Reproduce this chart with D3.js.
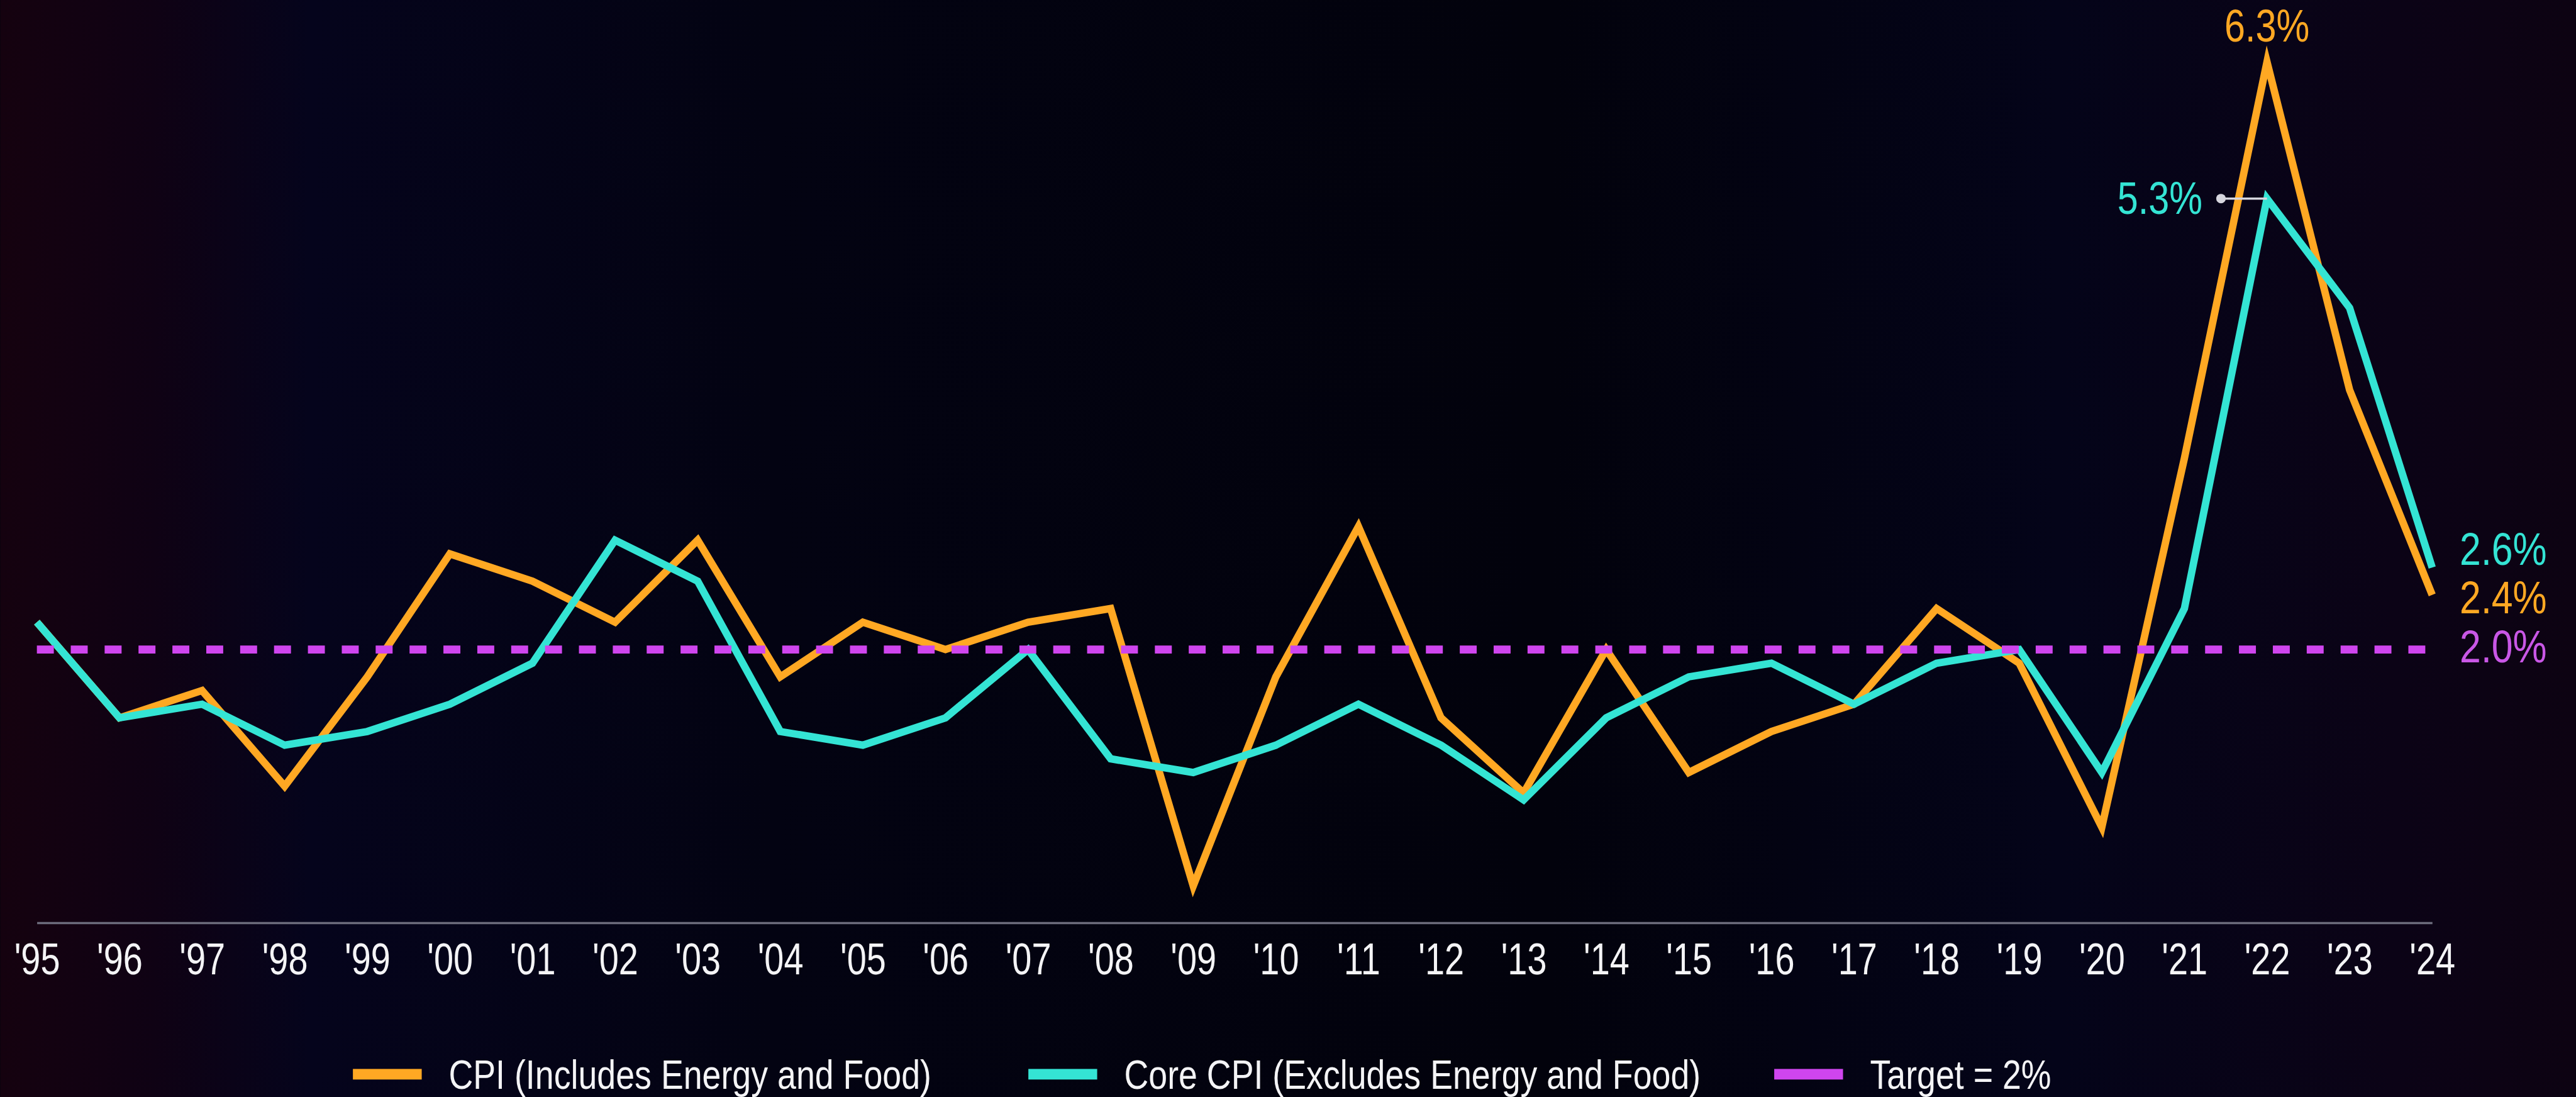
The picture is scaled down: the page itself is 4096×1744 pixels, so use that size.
<!DOCTYPE html>
<html>
<head>
<meta charset="utf-8">
<script src="https://cdn.jsdelivr.net/npm/d3@7"></script>
<style>
  html, body { margin: 0; padding: 0; background: #03030c; overflow: hidden; }
  svg { display: block; }
  text { font-family: "Liberation Sans", Arial, sans-serif; }
</style>
</head>
<body>
<div id="chart"></div>
<script>
// annual inflation, %
const years = d3.range(1995, 2025);
const cpi  = [2.2, 1.5, 1.7, 1.0, 1.8, 2.7, 2.5, 2.2, 2.8, 1.8, 2.2, 2.0, 2.2, 2.3, 0.27,
              1.8, 2.9, 1.5, 0.95, 2.0, 1.1, 1.4, 1.6, 2.3, 1.9, 0.7, 3.4, 6.3, 3.9, 2.4];
const core = [2.2, 1.5, 1.6, 1.3, 1.4, 1.6, 1.9, 2.8, 2.5, 1.4, 1.3, 1.5, 2.0, 1.2, 1.1,
              1.3, 1.6, 1.3, 0.9, 1.5, 1.8, 1.9, 1.6, 1.9, 2.0, 1.1, 2.3, 5.3, 4.5, 2.6];
const target = 2.0;
const legendItems = ['CPI (Includes Energy and Food)', 'Core CPI (Excludes Energy and Food)', 'Target = 2%'];

const C = { cpi: '#ffa823', core: '#34e4d4', target: '#cf45ee', targetText: '#c957e6', axis: '#6c6c7c', text: '#f4f4f6' };

// drawn in the reference's own pixel space, then scaled to the window
const W = 4865, H = 2072;
const svg = d3.select('#chart').append('svg')
  .attr('viewBox', `0 0 ${W} ${H}`).attr('width', 4096).attr('height', 1744);

const defs = svg.append('defs');
const bg = defs.append('linearGradient').attr('id', 'bg').attr('x1', 0).attr('x2', 1).attr('y1', 0).attr('y2', 0);
[[0, '#15020f'], [0.06, '#0f0214'], [0.12, '#05041c'], [0.3, '#030312'], [0.6, '#02020c'],
 [0.8, '#040419'], [0.93, '#0b0316'], [1, '#0d0312']]
  .forEach(([o, c]) => bg.append('stop').attr('offset', o).attr('stop-color', c));
svg.append('rect').attr('width', W).attr('height', H).attr('fill', 'url(#bg)');

const x = d3.scaleLinear().domain([1995, 2024]).range([69, 4594]);
const y = d3.scaleLinear().domain([0, 6.3]).range([1743, 117]);

// condensed text helper (squeezes glyphs horizontally)
function ctext(g, px, py, str, size, sx, fill, anchor) {
  return g.append('text')
    .attr('transform', `translate(${px},${py}) scale(${sx},1)`)
    .attr('text-anchor', anchor).attr('font-size', size).attr('fill', fill).text(str);
}

// x axis
const ax = svg.append('g').attr('transform', `translate(0,${y(0)})`)
  .call(d3.axisBottom(x).tickValues(years).tickSize(0).tickSizeOuter(0)
    .tickFormat(d => "'" + String(d).slice(2)));
ax.select('.domain').attr('stroke', C.axis).attr('stroke-width', 4);
ax.selectAll('.tick text')
  .attr('y', 97).attr('dy', null).attr('fill', C.text)
  .attr('font-size', 84).attr('font-family', '"Liberation Sans", Arial, sans-serif')
  .attr('transform', 'scale(0.79,1)');

// series
const line = d3.line().x((d, i) => x(years[i])).y(d => y(d));
svg.append('path').datum(cpi).attr('d', line)
  .attr('fill', 'none').attr('stroke', C.cpi).attr('stroke-width', 14)
  .attr('stroke-linejoin', 'miter').attr('stroke-miterlimit', 12);
svg.append('path').datum(core).attr('d', line)
  .attr('fill', 'none').attr('stroke', C.core).attr('stroke-width', 14)
  .attr('stroke-linejoin', 'miter').attr('stroke-miterlimit', 12);

// target
svg.append('line')
  .attr('x1', x(1995)).attr('x2', x(2024)).attr('y1', y(target)).attr('y2', y(target))
  .attr('stroke', C.target).attr('stroke-width', 15).attr('stroke-dasharray', '32,32');

// annotations
const ann = svg.append('g');
const iPeak = years.indexOf(2022);
ctext(ann, x(2022), y(cpi[iPeak]) - 38, d3.format('.1f')(cpi[iPeak]) + '%', 86, 0.82, C.cpi, 'middle');
ann.append('line').attr('x1', 4195).attr('x2', x(2022)).attr('y1', y(core[iPeak])).attr('y2', y(core[iPeak]))
  .attr('stroke', '#d6d6de').attr('stroke-width', 4);
ann.append('circle').attr('cx', 4195).attr('cy', y(core[iPeak])).attr('r', 9).attr('fill', '#d6d6de');
ctext(ann, 4160, y(core[iPeak]) + 29, d3.format('.1f')(core[iPeak]) + '%', 86, 0.82, C.core, 'end');

const last = years.length - 1;
[[core[last], C.core], [cpi[last], C.cpi], [target, C.targetText]].forEach(([v, c], i) => {
  ctext(ann, 4646, y(target) + 24 - (2 - i) * 92, d3.format('.1f')(v) + '%', 86, 0.84, c, 'start');
});

// legend
const leg = svg.append('g');
const legX = [666, 1942, 3351];
const legC = [C.cpi, C.core, C.target];
legendItems.forEach((t, i) => {
  leg.append('rect').attr('x', legX[i]).attr('y', 2019).attr('width', 130).attr('height', 20).attr('fill', legC[i]);
  ctext(leg, legX[i] + 181, 2057, t, 76, 0.84, C.text, 'start');
});
</script>
</body>
</html>
